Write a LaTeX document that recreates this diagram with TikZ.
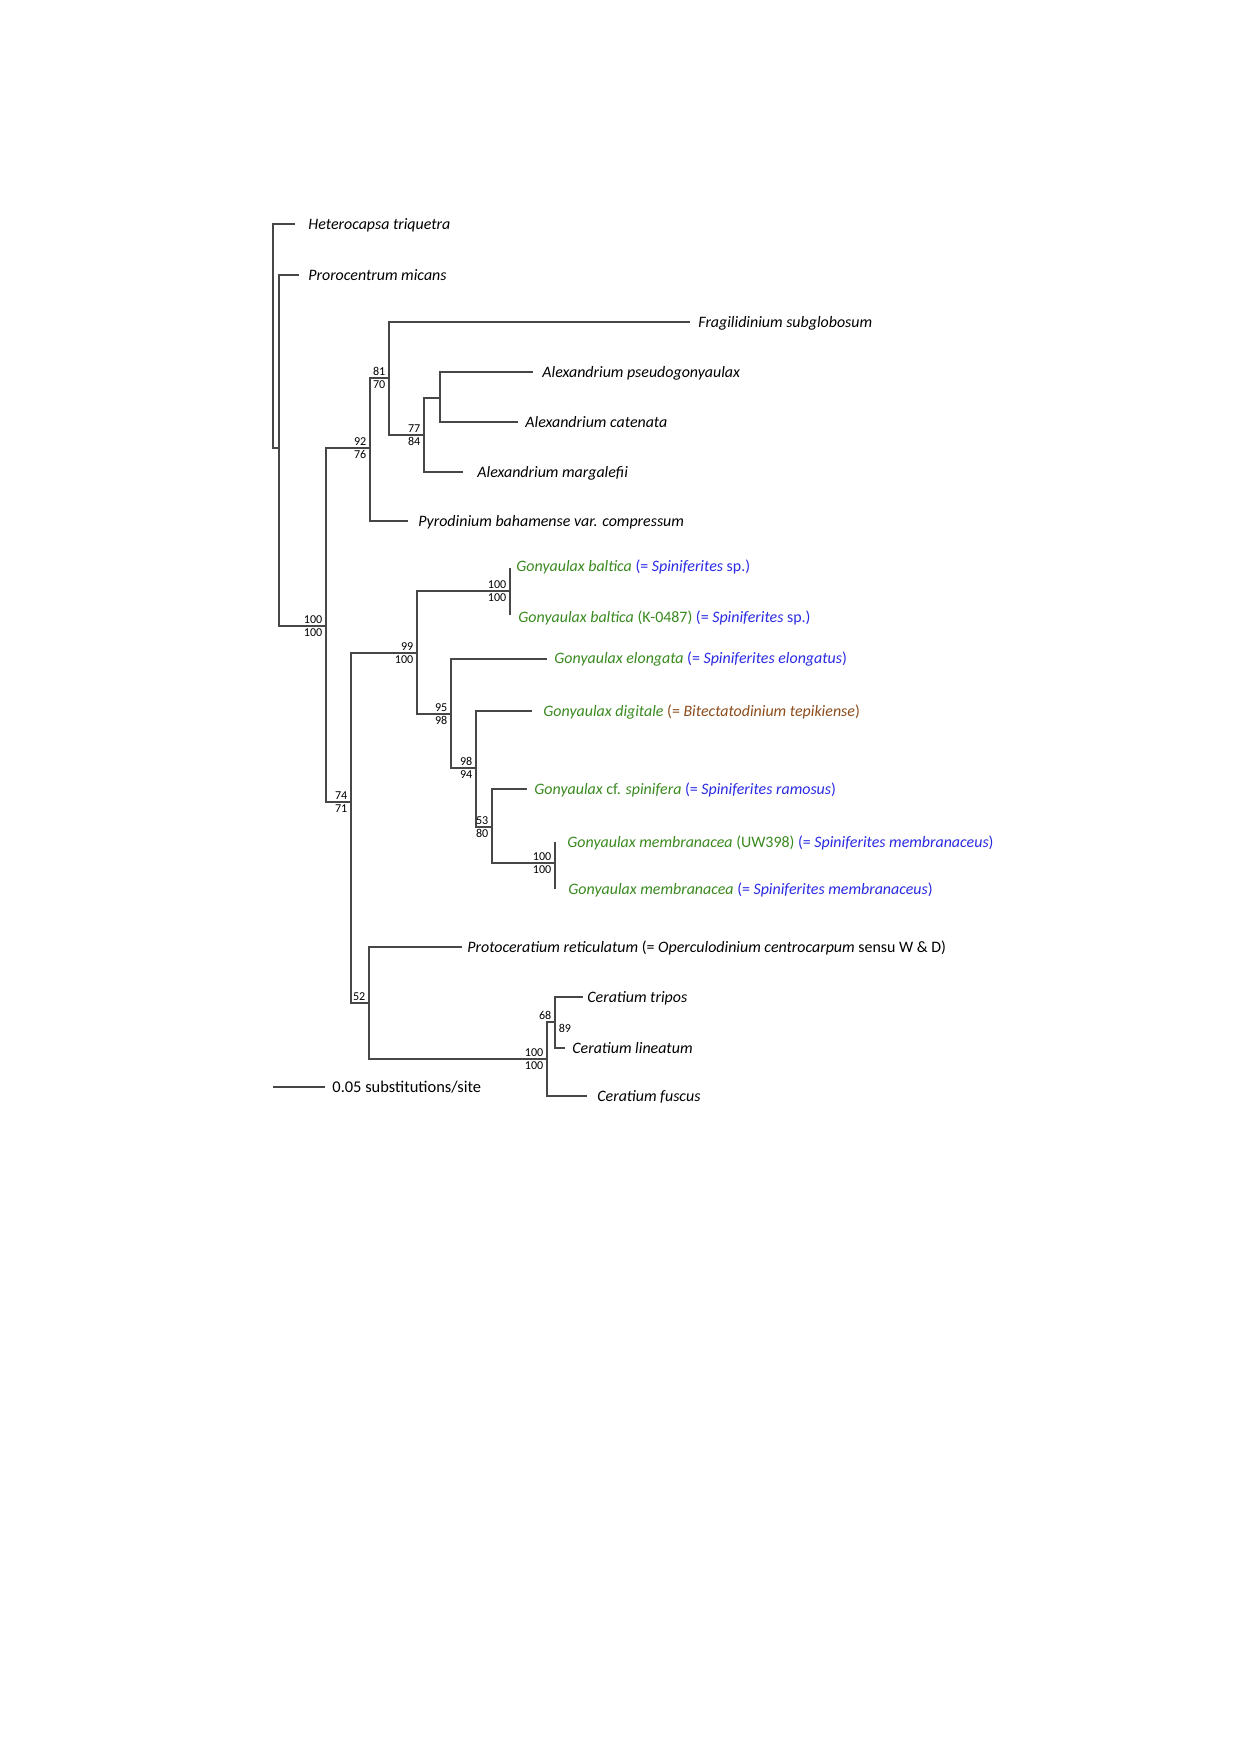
\documentclass[tikz,border=0pt]{standalone}
\usepackage{fontspec}
\setmainfont{Carlito}
\usetikzlibrary{positioning}
\definecolor{gonygreen}{RGB}{58,138,32}
\definecolor{spiniblue}{RGB}{42,42,228}
\definecolor{bitebrown}{RGB}{140,76,28}
\tikzset{
    branch/.style={
    draw=black!72,line width=0.7pt
    },
    taxon/.style={
    anchor=base west,inner sep=0pt,yshift=-2.6pt,font=\fontsize{7.65}{9}\selectfont\itshape
    },
    support/.style={
    inner xsep=1.6pt,inner ysep=1.1pt,font=\fontsize{5.8}{6}\selectfont
    },
}
\newcommand{\gony}[1]{\textcolor{gonygreen}{#1}}
\newcommand{\spini}[1]{\textcolor{spiniblue}{#1}}

\begin{document}
\begin{tikzpicture}[x=0.4805pt,y=-0.4805pt]
   \useasboundingbox[fill=white] (0,0) rectangle (1239,1754);
   % inner nodes
   \coordinate (root) at (273,336);
   \coordinate (n1) at (279,448);
   \coordinate (n2) at (326,626);
   \coordinate (n3) at (370,448);
   \coordinate (n4) at (389,378);
   \coordinate (n5) at (424,435);
   \coordinate (n6) at (440,398);
   \coordinate (n7) at (351,802);
   \coordinate (n8) at (417,653);
   \coordinate (n9) at (510,591);
   \coordinate (n10) at (451,714);
   \coordinate (n11) at (476,768);
   \coordinate (n12) at (492,827);
   \coordinate (n13) at (555,863);
   \coordinate (n14) at (369,1003);
   \coordinate (n15) at (547,1059);
   \coordinate (n16) at (555,1022);
   % branch ends
   \coordinate (t-het) at (295,224);
   \coordinate (t-pro) at (299,275);
   \coordinate (t-frag) at (690,322);
   \coordinate (t-pseu) at (533,372);
   \coordinate (t-cate) at (518,422);
   \coordinate (t-marg) at (463,472);
   \coordinate (t-pyro) at (408,521);
   \coordinate (t-bal1) at (510,568);
   \coordinate (t-bal2) at (510,615);
   \coordinate (t-elon) at (547,659);
   \coordinate (t-digi) at (532,711);
   \coordinate (t-spin) at (527,789);
   \coordinate (t-mem1) at (555,842);
   \coordinate (t-mem2) at (555,889);
   \coordinate (t-prot) at (462,947);
   \coordinate (t-trip) at (583,997);
   \coordinate (t-line) at (565,1048);
   \coordinate (t-fusc) at (587,1096);

   \draw[branch]
     (root) |- (t-het)  (root) |- (n1)
     (n1) |- (t-pro)    (n1) |- (n2)
     (n2) |- (n3)       (n2) |- (n7)
     (n3) |- (n4)       (n3) |- (t-pyro)
     (n4) |- (t-frag)   (n4) |- (n5)
     (n5) |- (n6)       (n5) |- (t-marg)
     (n6) |- (t-pseu)   (n6) |- (t-cate)
     (n7) |- (n8)       (n7) |- (n14)
     (n8) |- (n9)       (n8) |- (n10)
     (n9) |- (t-bal1)   (n9) |- (t-bal2)
     (n10) |- (t-elon)  (n10) |- (n11)
     (n11) |- (t-digi)  (n11) |- (n12)
     (n12) |- (t-spin)  (n12) |- (n13)
     (n13) |- (t-mem1)  (n13) |- (t-mem2)
     (n14) |- (t-prot)  (n14) |- (n15)
     (n15) |- (n16)     (n15) |- (t-fusc)
     (n16) |- (t-trip)  (n16) |- (t-line);

   % taxa
   \node[taxon] (het) at (308,224) {Heterocapsa triquetra};
   \node[taxon] (pro) at (308,275) {Prorocentrum micans};
   \node[taxon] (frag) at (698,322) {Fragilidinium subglobosum};
   \node[taxon] (pseu) at (542,372) {Alexandrium pseudogonyaulax};
   \node[taxon] (cate) at (525,422) {Alexandrium catenata};
   \node[taxon] (marg) at (477,472) {Alexandrium margalefii};
   \node[taxon] (pyro) at (418,521) {Pyrodinium bahamense var. compressum};
   \node[taxon] (bal1) at (516,566) {\gony{Gonyaulax baltica} \spini{\upshape(= \itshape Spiniferites \upshape sp.)}};
   \node[taxon] (bal2) at (518,617) {\gony{Gonyaulax baltica \upshape(K-0487)} \spini{\upshape(= \itshape Spiniferites \upshape sp.)}};
   \node[taxon] (elon) at (554,658) {\gony{Gonyaulax elongata} \spini{\upshape(= \itshape Spiniferites elongatus\upshape)}};
   \node[taxon] (digi) at (543,711) {\gony{Gonyaulax digitale} \textcolor{bitebrown}{\upshape(= \itshape Bitectatodinium tepikiense\upshape)}};
   \node[taxon] (spin) at (534,789) {\gony{Gonyaulax \upshape cf. \itshape spinifera} \spini{\upshape(= \itshape Spiniferites ramosus\upshape)}};
   \node[taxon] (mem1) at (567,842) {\gony{Gonyaulax membranacea \upshape(UW398)} \spini{\upshape(= \itshape Spiniferites membranaceus\upshape)}};
   \node[taxon] (mem2) at (568,889) {\gony{Gonyaulax membranacea} \spini{\upshape(= \itshape Spiniferites membranaceus\upshape)}};
   \node[taxon] (prot) at (467,947) {Protoceratium reticulatum \upshape(= \itshape Operculodinium centrocarpum \upshape sensu W \& D)};
   \node[taxon] (trip) at (587,997) {Ceratium tripos};
   \node[taxon] (line) at (572,1048) {Ceratium lineatum};
   \node[taxon] (fusc) at (597,1096) {Ceratium fuscus};

   % support values
   \node[support,anchor=south east] (s2a) at (n2) {100};
   \node[support,anchor=north east] (s2b) at (n2) {100};
   \node[support,anchor=south east] (s3a) at (n3) {92};
   \node[support,anchor=north east] (s3b) at (n3) {76};
   \node[support,anchor=south east] (s4a) at (n4) {81};
   \node[support,anchor=north east] (s4b) at (n4) {70};
   \node[support,anchor=south east] (s5a) at (n5) {77};
   \node[support,anchor=north east] (s5b) at (n5) {84};
   \node[support,anchor=south east] (s7a) at (n7) {74};
   \node[support,anchor=north east] (s7b) at (n7) {71};
   \node[support,anchor=south east] (s8a) at (n8) {99};
   \node[support,anchor=north east] (s8b) at (n8) {100};
   \node[support,anchor=south east] (s9a) at (n9) {100};
   \node[support,anchor=north east] (s9b) at (n9) {100};
   \node[support,anchor=south east] (s10a) at (n10) {95};
   \node[support,anchor=north east] (s10b) at (n10) {98};
   \node[support,anchor=south east] (s11a) at (n11) {98};
   \node[support,anchor=north east] (s11b) at (n11) {94};
   \node[support,anchor=south east] (s12a) at (n12) {53};
   \node[support,anchor=north east] (s12b) at (n12) {80};
   \node[support,anchor=south east] (s13a) at (n13) {100};
   \node[support,anchor=north east] (s13b) at (n13) {100};
   \node[support,anchor=south east] (s14a) at (n14) {52};
   \node[support,anchor=south east] (s15a) at (n15) {100};
   \node[support,anchor=north east] (s15b) at (n15) {100};
   \node[support,anchor=south east] (s16a) at (n16) {68};
   \node[support,anchor=north west] (s16b) at (n16) {89};

   % scale bar
   \coordinate (bar-l) at (273,1087);
   \coordinate (bar-r) at (325,1087);
   \draw[branch] (bar-l) -- (bar-r);
   \node[taxon,font=\fontsize{7.9}{9}\selectfont] (bar) at (332,1087) {0.05 substitutions/site};
\end{tikzpicture}
\end{document}
